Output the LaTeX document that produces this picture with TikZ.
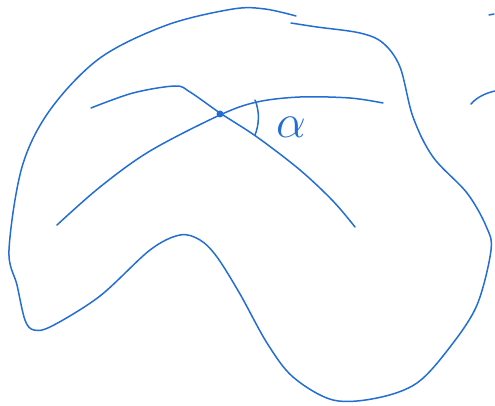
\documentclass[tikz,border=0pt]{standalone}
\begin{document}
\begin{tikzpicture}[x=1pt,y=-1pt,
  ink/.style={draw=penblue, line width=1.5pt, line cap=round, line join=round}]
\definecolor{penblue}{RGB}{35,110,210}
\useasboundingbox (0,0) rectangle (495,406);
% outer blob
\draw[ink] plot[smooth, tension=0.55] coordinates {
 (296,16) (265,9) (233,9) (167,25) (100,58) (50,110) (22,167) (9,250)
 (17,285) (25,320) (34,330) (52,326) (100,296) (150,250) (180,235)
 (200,240) (217,257) (240,294) (267,343) (293,377) (333,400) (377,398)
 (417,383) (450,347) (477,305) (491,250) (486,226) (467,193) (433,157)
 (413,117) (400,67) (383,43) (360,33) (317,27) (291,23)};
% steep curve
\draw[ink] plot[smooth, tension=0.55] coordinates {
 (91,108) (133,93) (175,86) (190,92) (220,113) (257,137) (300,170) (333,201) (355,227)};
% flat curve
\draw[ink] plot[smooth, tension=0.55] coordinates {
 (57,225) (100,187) (150,151) (220,115) (257,102) (300,97) (350,98) (383,103)};
% intersection point
\fill[penblue] (220,114) circle (3.5pt) coordinate (p);
% angle arc
\draw[ink] (255,100) .. controls (260,112) and (259,125) .. (255,135);
\node[text=penblue, font=\Huge, scale=1.9, inner sep=0pt] (alpha) at (291,127) {$\alpha$};
% marks at right edge
\draw[ink] (489,15) -- (494,14);
\draw[ink] (471,104) .. controls (477,97) and (486,93) .. (495,91);
\end{tikzpicture}
\end{document}
